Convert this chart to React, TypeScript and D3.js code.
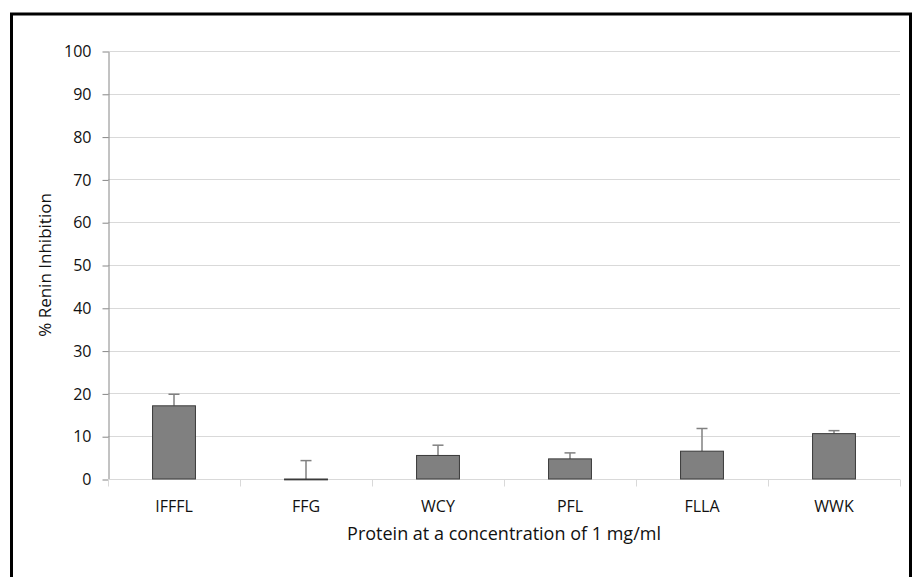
import React, { useEffect, useRef } from "react";
import * as d3 from "d3";

const categories = ["IFFFL", "FFG", "WCY", "PFL", "FLLA", "WWK"];
const inhibition = [17.1, -0.2, 5.5, 4.7, 6.5, 10.6];
const errors = [2.7, 4.5, 2.4, 1.4, 5.3, 0.7];
const yTicks = [0, 10, 20, 30, 40, 50, 60, 70, 80, 90, 100];

const W = 914;
const H = 577;
const margin = { left: 108, right: 14, top: 51, bottom: 98 };
const font = "'Open Sans', 'Noto Sans', sans-serif";

export default function App() {
  const ref = useRef<SVGSVGElement | null>(null);

  useEffect(() => {
    const svg = d3.select(ref.current);
    svg.selectAll("*").remove();

    const x = d3
      .scaleBand()
      .domain(categories)
      .range([margin.left, W - margin.right])
      .paddingInner(0.675)
      .paddingOuter(0.3375);
    const y = d3
      .scaleLinear()
      .domain([0, 100])
      .range([H - margin.bottom, margin.top]);
    const step = x.step();

    // outer frame
    svg
      .append("rect")
      .attr("x", 11.5)
      .attr("y", 14)
      .attr("width", 899)
      .attr("height", 620)
      .attr("fill", "white")
      .attr("stroke", "black")
      .attr("stroke-width", 3);

    // gridlines
    svg
      .append("g")
      .selectAll("line")
      .data(yTicks.filter((t) => t > 0))
      .enter()
      .append("line")
      .attr("x1", margin.left)
      .attr("x2", W - margin.right)
      .attr("y1", (d) => Math.round(y(d)) + 0.5)
      .attr("y2", (d) => Math.round(y(d)) + 0.5)
      .attr("stroke", "#d9d9d9");

    // y axis
    const yAxisG = svg.append("g").attr("transform", `translate(${margin.left + 0.5},0.5)`);
    yAxisG.call(
      d3.axisLeft(y).tickValues(yTicks).tickSize(6).tickPadding(11).tickSizeOuter(0)
    );
    yAxisG.select(".domain").attr("stroke", "#868686");
    yAxisG.selectAll(".tick line").attr("stroke", "#868686");
    yAxisG
      .selectAll(".tick text")
      .attr("font-family", font)
      .attr("font-size", 16)
      .attr("fill", "#111");

    // x axis baseline and ticks
    const base = Math.round(y(0)) + 0.5;
    svg
      .append("line")
      .attr("x1", margin.left)
      .attr("x2", W - margin.right)
      .attr("y1", base)
      .attr("y2", base)
      .attr("stroke", "#d9d9d9");
    svg
      .append("g")
      .selectAll("line")
      .data(d3.range(categories.length + 1))
      .enter()
      .append("line")
      .attr("x1", (i) => Math.round(margin.left + i * step) + 0.5)
      .attr("x2", (i) => Math.round(margin.left + i * step) + 0.5)
      .attr("y1", base)
      .attr("y2", base + 7)
      .attr("stroke", "#d9d9d9");

    svg
      .append("g")
      .selectAll("text")
      .data(categories)
      .enter()
      .append("text")
      .attr("x", (d) => (x(d) as number) + x.bandwidth() / 2)
      .attr("y", base + 32)
      .attr("text-anchor", "middle")
      .attr("font-family", font)
      .attr("font-size", 16)
      .attr("fill", "#111")
      .text((d) => d);

    // error bars
    const eb = svg
      .append("g")
      .selectAll("g")
      .data(categories)
      .enter()
      .append("g");
    eb.append("line")
      .attr("x1", (d) => (x(d) as number) + x.bandwidth() / 2)
      .attr("x2", (d) => (x(d) as number) + x.bandwidth() / 2)
      .attr("y1", (d, i) => y(inhibition[i]))
      .attr("y2", (d, i) => y(inhibition[i] + errors[i]))
      .attr("stroke", "#808080")
      .attr("stroke-width", 1.5);
    eb.append("line")
      .attr("x1", (d) => (x(d) as number) + x.bandwidth() / 2 - 5.5)
      .attr("x2", (d) => (x(d) as number) + x.bandwidth() / 2 + 5.5)
      .attr("y1", (d, i) => y(inhibition[i] + errors[i]))
      .attr("y2", (d, i) => y(inhibition[i] + errors[i]))
      .attr("stroke", "#808080")
      .attr("stroke-width", 1.5);

    // bars
    svg
      .append("g")
      .selectAll("rect")
      .data(categories)
      .enter()
      .append("rect")
      .attr("x", (d) => x(d) as number)
      .attr("width", x.bandwidth())
      .attr("y", (d, i) => y(Math.max(0, inhibition[i])))
      .attr("height", (d, i) => Math.abs(y(inhibition[i]) - y(0)))
      .attr("fill", "#808080")
      .attr("stroke", "#3a3a3a")
      .attr("stroke-width", 1);

    // axis titles
    svg
      .append("text")
      .attr("transform", `translate(51,${(margin.top + H - margin.bottom) / 2}) rotate(-90)`)
      .attr("text-anchor", "middle")
      .attr("font-family", font)
      .attr("font-size", 17)
      .attr("fill", "#111")
      .text("% Renin Inhibition");
    svg
      .append("text")
      .attr("x", (margin.left + W - margin.right) / 2)
      .attr("y", base + 60)
      .attr("text-anchor", "middle")
      .attr("font-family", font)
      .attr("font-size", 18)
      .attr("fill", "#111")
      .text("Protein at a concentration of 1 mg/ml");
  }, []);

  return (
    <svg
      ref={ref}
      width={W}
      height={H}
      style={{ position: "absolute", left: 0, top: 0, background: "white" }}
    />
  );
}
